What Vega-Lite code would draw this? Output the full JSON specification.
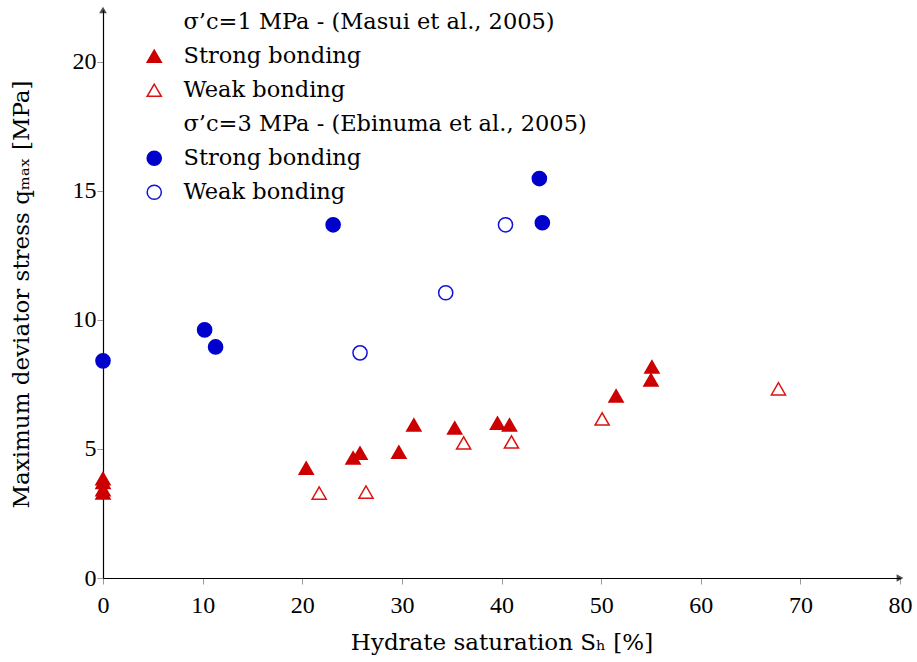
{
  "$schema": "https://vega.github.io/schema/vega-lite/v6.json",
  "width": 797,
  "height": 568,
  "autosize": {"type": "none"},
  "padding": {"left": 103, "top": 10, "right": 17, "bottom": 84},
  "background": "white",
  "config": {"view": {"stroke": null}},
  "datasets": {
    "pts": [
      {"sh": 0, "q": 8.41, "s": "e_strong"},
      {"sh": 10.2, "q": 9.61, "s": "e_strong"},
      {"sh": 11.3, "q": 8.95, "s": "e_strong"},
      {"sh": 23.1, "q": 13.68, "s": "e_strong"},
      {"sh": 43.8, "q": 15.47, "s": "e_strong"},
      {"sh": 44.1, "q": 13.76, "s": "e_strong"},
      {"sh": 25.8, "q": 8.72, "s": "e_weak"},
      {"sh": 34.4, "q": 11.05, "s": "e_weak"},
      {"sh": 40.4, "q": 13.68, "s": "e_weak"},
      {"sh": 0, "q": 3.85, "s": "m_strong"},
      {"sh": 0, "q": 3.7, "s": "m_strong"},
      {"sh": 0, "q": 3.42, "s": "m_strong"},
      {"sh": 0, "q": 3.3, "s": "m_strong"},
      {"sh": 20.4, "q": 4.26, "s": "m_strong"},
      {"sh": 25.1, "q": 4.65, "s": "m_strong"},
      {"sh": 25.8, "q": 4.84, "s": "m_strong"},
      {"sh": 29.7, "q": 4.88, "s": "m_strong"},
      {"sh": 31.2, "q": 5.93, "s": "m_strong"},
      {"sh": 35.3, "q": 5.81, "s": "m_strong"},
      {"sh": 39.6, "q": 6.0, "s": "m_strong"},
      {"sh": 40.8, "q": 5.93, "s": "m_strong"},
      {"sh": 51.5, "q": 7.05, "s": "m_strong"},
      {"sh": 55.0, "q": 7.67, "s": "m_strong"},
      {"sh": 55.1, "q": 8.18, "s": "m_strong"},
      {"sh": 21.7, "q": 3.29, "s": "m_weak"},
      {"sh": 26.4, "q": 3.33, "s": "m_weak"},
      {"sh": 36.2, "q": 5.23, "s": "m_weak"},
      {"sh": 41.0, "q": 5.27, "s": "m_weak"},
      {"sh": 50.1, "q": 6.16, "s": "m_weak"},
      {"sh": 67.8, "q": 7.33, "s": "m_weak"}
    ],
    "xend": [{"sh": 80, "q": 0}],
    "yend": [{"sh": 0, "q": 22}]
  },
  "layer": [
    {
      "data": {"name": "pts"},
      "mark": {"type": "point", "filled": false, "strokeWidth": 1.5, "opacity": 1, "clip": false},
      "encoding": {
        "x": {
          "field": "sh", "type": "quantitative",
          "scale": {"domain": [0, 80], "nice": false, "zero": false},
          "axis": {
            "title": "Hydrate saturation Sₕ [%]",
            "values": [0, 10, 20, 30, 40, 50, 60, 70, 80],
            "grid": false, "labelFlush": false,
            "domainColor": "black", "domainWidth": 1.2,
            "tickColor": "#999999", "tickSize": 6,
            "labelFont": "Liberation Serif", "labelFontSize": 24, "labelColor": "black", "labelPadding": 9,
            "titleFont": "DejaVu Serif", "titleFontSize": 23, "titleFontWeight": "normal", "titleColor": "black", "titlePadding": 14
          }
        },
        "y": {
          "field": "q", "type": "quantitative",
          "scale": {"domain": [0, 22], "nice": false, "zero": false},
          "axis": {
            "title": "Maximum deviator stress qₘₐₓ [MPa]",
            "values": [0, 5, 10, 15, 20],
            "grid": false, "labelFlush": false,
            "domainColor": "black", "domainWidth": 1.2,
            "tickColor": "#999999", "tickSize": 6,
            "labelFont": "Liberation Serif", "labelFontSize": 24, "labelColor": "black", "labelPadding": 1,
            "titleFont": "DejaVu Serif", "titleFontSize": 23, "titleFontWeight": "normal", "titleColor": "black", "titlePadding": 39
          }
        },
        "shape": {
          "field": "s", "type": "nominal",
          "scale": {
            "domain": ["h1", "m_strong", "m_weak", "h2", "e_strong", "e_weak"],
            "range": ["circle", "triangle-up", "triangle-up", "circle", "circle", "circle"]
          },
          "legend": {
            "orient": "none", "legendX": 40, "legendY": 1,
            "title": null, "padding": 0,
            "symbolSize": 200, "symbolStrokeWidth": 1.5,
            "labelFont": "DejaVu Serif", "labelFontSize": 22.5, "labelColor": "black",
            "labelOffset": 18, "rowPadding": 11, "labelLimit": 600,
            "labelExpr": "datum.value == 'h1' ? 'σ’c=1 MPa - (Masui et al., 2005)' : datum.value == 'h2' ? 'σ’c=3 MPa - (Ebinuma et al., 2005)' : (indexof(datum.value, 'strong') >= 0 ? 'Strong bonding' : 'Weak bonding')"
          }
        },
        "fill": {
          "field": "s", "type": "nominal",
          "scale": {
            "domain": ["h1", "m_strong", "m_weak", "h2", "e_strong", "e_weak"],
            "range": ["transparent", "#cc0000", "white", "transparent", "#0000cc", "white"]
          },
          "legend": null
        },
        "stroke": {
          "field": "s", "type": "nominal",
          "scale": {
            "domain": ["h1", "m_strong", "m_weak", "h2", "e_strong", "e_weak"],
            "range": ["transparent", "#cc0000", "#dd1111", "transparent", "#0000cc", "#1111dd"]
          },
          "legend": null
        },
        "size": {"value": 200}
      }
    },
    {
      "data": {"name": "xend"},
      "mark": {"type": "point", "shape": "triangle-right", "filled": true, "color": "black", "size": 60, "clip": false},
      "encoding": {"x": {"field": "sh", "type": "quantitative"}, "y": {"field": "q", "type": "quantitative"}}
    },
    {
      "data": {"name": "yend"},
      "mark": {"type": "point", "shape": "triangle-up", "filled": true, "color": "black", "size": 60, "clip": false},
      "encoding": {"x": {"field": "sh", "type": "quantitative"}, "y": {"field": "q", "type": "quantitative"}}
    }
  ]
}
